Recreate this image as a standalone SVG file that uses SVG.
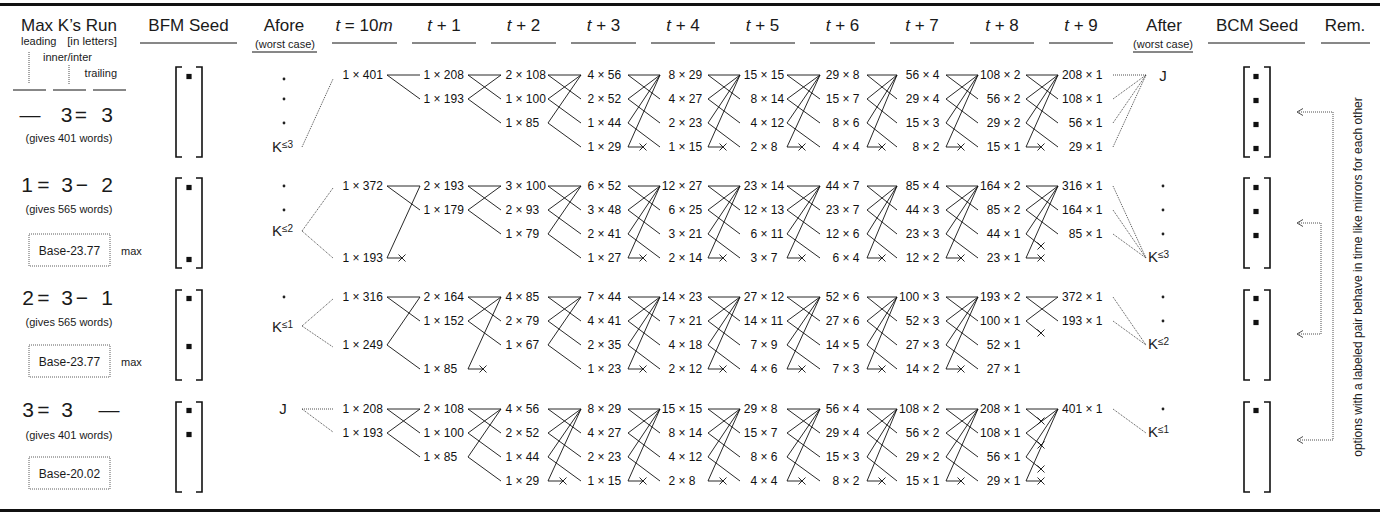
<svg xmlns="http://www.w3.org/2000/svg" xmlns:xlink="http://www.w3.org/1999/xlink" width="1380" height="512" viewBox="0 0 1380 512">
<style>
text{font-family:"Liberation Sans",Arial,Helvetica,sans-serif;fill:#1a1a1a}
.h{font-size:17px}
.s{font-size:11px}
.r{font-size:12px}
.n{font-size:12px;fill:#111}
.big{font-size:21px}
.k{font-size:15px}
.b{font-size:12px}
.i{font-style:italic}
.ln{stroke:#111;stroke-width:0.9;fill:none}
.dt{stroke:#222;stroke-width:0.8;stroke-dasharray:1 1;fill:none}
.ul{stroke:#111;stroke-width:1;fill:none}
.br{stroke:#111;stroke-width:1.6;fill:none}
.box{stroke:#333;stroke-width:0.8;stroke-dasharray:1 1;fill:none}
.sq{fill:#111}
.dot{fill:#222}
.ah{stroke:#222;stroke-width:0.8;fill:none}
</style>
<defs>
<path id="xm" d="M-3.5-3.5L3.5 3.5M-3.5 3.5L3.5-3.5" class="ln"/>
<g id="brk"><path d="M7 0H1V90H7M21 0H27V90H21" class="br"/></g>
<rect id="sqr" x="-2.6" y="-2.6" width="5.2" height="5.2" class="sq"/>
</defs>

<rect x="0" y="3" width="1380" height="3" fill="#111"/>
<rect x="0" y="509" width="1380" height="3" fill="#111"/>

<g id="header">
<text class="h" x="69" y="31" text-anchor="middle">Max K’s Run</text>
<text class="s" x="21" y="45">leading</text>
<text class="s" x="117" y="45" text-anchor="end" style="font-size:11.5px">[in letters]</text>
<text class="s" x="43" y="61">inner/inter</text>
<text class="s" x="117" y="77" text-anchor="end">trailing</text>
<path class="dt" d="M29 52V84M69 65V84"/>
<path class="ul" d="M13 90H46M53 90H86M93 90H126"/>
<text class="h" x="188.5" y="31" text-anchor="middle">BFM Seed</text>
<path class="ul" d="M140 43H237"/>
<text class="h" x="284" y="31" text-anchor="middle">Afore</text>
<text class="s" x="285" y="48" text-anchor="middle">(worst case)</text>
<path class="ul" d="M252 52H317"/>
<text class="h" x="364" y="31" text-anchor="middle"><tspan class="i">t</tspan> = 10<tspan class="i">m</tspan></text>
<text class="h" x="444" y="31" text-anchor="middle"><tspan class="i">t</tspan> + 1</text>
<text class="h" x="523.5" y="31" text-anchor="middle"><tspan class="i">t</tspan> + 2</text>
<text class="h" x="603.5" y="31" text-anchor="middle"><tspan class="i">t</tspan> + 3</text>
<text class="h" x="683" y="31" text-anchor="middle"><tspan class="i">t</tspan> + 4</text>
<text class="h" x="762.5" y="31" text-anchor="middle"><tspan class="i">t</tspan> + 5</text>
<text class="h" x="842.5" y="31" text-anchor="middle"><tspan class="i">t</tspan> + 6</text>
<text class="h" x="922" y="31" text-anchor="middle"><tspan class="i">t</tspan> + 7</text>
<text class="h" x="1002" y="31" text-anchor="middle"><tspan class="i">t</tspan> + 8</text>
<text class="h" x="1081" y="31" text-anchor="middle"><tspan class="i">t</tspan> + 9</text>
<path class="ul" d="M332 43H397M412 43H476M491 43H556M571 43H636M651 43H715M730 43H795M810 43H875M890 43H954M970 43H1034M1049 43H1113"/>
<text class="h" x="1164" y="31" text-anchor="middle">After</text>
<text class="s" x="1163" y="48" text-anchor="middle">(worst case)</text>
<path class="ul" d="M1133 52H1193"/>
<text class="h" x="1257" y="31" text-anchor="middle">BCM Seed</text>
<path class="ul" d="M1208 43H1305"/>
<text class="h" x="1345" y="31" text-anchor="middle">Rem.</text>
<path class="ul" d="M1321 43H1370"/>
</g>

<g id="run1">
<text class="big" x="30" y="122" text-anchor="middle">—</text>
<text class="big" x="66.5" y="122" text-anchor="middle">3</text>
<text class="big" x="81" y="122" text-anchor="middle">=</text>
<text class="big" x="107" y="122" text-anchor="middle">3</text>
<text class="s" x="69" y="142" text-anchor="middle">(gives 401 words)</text>
</g>
<g id="run2">
<text class="big" x="27" y="192" text-anchor="middle">1</text>
<text class="big" x="43.5" y="192" text-anchor="middle">=</text>
<text class="big" x="67" y="192" text-anchor="middle">3</text>
<text class="big" x="82" y="192" text-anchor="middle">−</text>
<text class="big" x="107" y="192" text-anchor="middle">2</text>
<text class="s" x="69" y="213" text-anchor="middle">(gives 565 words)</text>
<rect class="box" x="29" y="234" width="81" height="32"/>
<text class="b" x="69.5" y="255" text-anchor="middle">Base-23.77</text>
<text class="s" x="121" y="255">max</text>
</g>
<g id="run3">
<text class="big" x="28" y="305" text-anchor="middle">2</text>
<text class="big" x="43.5" y="305" text-anchor="middle">=</text>
<text class="big" x="67" y="305" text-anchor="middle">3</text>
<text class="big" x="82" y="305" text-anchor="middle">−</text>
<text class="big" x="107" y="305" text-anchor="middle">1</text>
<text class="s" x="69" y="326" text-anchor="middle">(gives 565 words)</text>
<rect class="box" x="29" y="345" width="81" height="32"/>
<text class="b" x="69.5" y="366" text-anchor="middle">Base-23.77</text>
<text class="s" x="121" y="366">max</text>
</g>
<g id="run4">
<text class="big" x="28" y="417" text-anchor="middle">3</text>
<text class="big" x="43.5" y="417" text-anchor="middle">=</text>
<text class="big" x="67" y="417" text-anchor="middle">3</text>
<text class="big" x="109" y="417" text-anchor="middle">—</text>
<text class="s" x="69" y="439" text-anchor="middle">(gives 401 words)</text>
<rect class="box" x="29" y="457" width="81" height="32"/>
<text class="b" x="69.5" y="478" text-anchor="middle">Base-20.02</text>
</g>

<g id="bfm1"><use xlink:href="#brk" x="175" y="67"/><use xlink:href="#sqr" x="189" y="76.5"/></g>
<g id="bfm2"><use xlink:href="#brk" x="175" y="178"/><use xlink:href="#sqr" x="189" y="187.5"/><use xlink:href="#sqr" x="189" y="259.5"/></g>
<g id="bfm3"><use xlink:href="#brk" x="175" y="290"/><use xlink:href="#sqr" x="189" y="298.5"/><use xlink:href="#sqr" x="189" y="346.5"/></g>
<g id="bfm4"><use xlink:href="#brk" x="175" y="402"/><use xlink:href="#sqr" x="189" y="410.5"/><use xlink:href="#sqr" x="189" y="434.5"/></g>

<g id="bcm1"><use xlink:href="#brk" x="1243" y="67"/><use xlink:href="#sqr" x="1256" y="76.5"/><use xlink:href="#sqr" x="1256" y="100.5"/><use xlink:href="#sqr" x="1256" y="124.5"/><use xlink:href="#sqr" x="1256" y="148.5"/></g>
<g id="bcm2"><use xlink:href="#brk" x="1243" y="178"/><use xlink:href="#sqr" x="1256" y="187.5"/><use xlink:href="#sqr" x="1256" y="211.5"/><use xlink:href="#sqr" x="1256" y="235.5"/></g>
<g id="bcm3"><use xlink:href="#brk" x="1243" y="290"/><use xlink:href="#sqr" x="1256" y="298.5"/><use xlink:href="#sqr" x="1256" y="322.5"/></g>
<g id="bcm4"><use xlink:href="#brk" x="1243" y="402"/><use xlink:href="#sqr" x="1256" y="410.5"/></g>

<g id="afore1"><circle class="dot" cx="284" cy="79" r="1.4"/><circle class="dot" cx="284" cy="99" r="1.4"/><circle class="dot" cx="284" cy="123" r="1.4"/><text class="k" x="272" y="152">K<tspan font-size="10" dy="-4">≤3</tspan></text></g>
<g id="afore2"><circle class="dot" cx="284" cy="186" r="1.4"/><circle class="dot" cx="284" cy="210" r="1.4"/><text class="k" x="272" y="236">K<tspan font-size="10" dy="-4">≤2</tspan></text></g>
<g id="afore3"><circle class="dot" cx="284" cy="297" r="1.4"/><text class="k" x="272" y="332">K<tspan font-size="10" dy="-4">≤1</tspan></text></g>
<g id="afore4"><text class="k" x="283" y="414" text-anchor="middle">J</text></g>

<g id="after1"><text class="k" x="1163" y="81" text-anchor="middle">J</text></g>
<g id="after2"><circle class="dot" cx="1163" cy="186" r="1.4"/><circle class="dot" cx="1163" cy="210" r="1.4"/><circle class="dot" cx="1163" cy="234" r="1.4"/><text class="k" x="1148" y="262">K<tspan font-size="10" dy="-4">≤3</tspan></text></g>
<g id="after3"><circle class="dot" cx="1163" cy="297" r="1.4"/><circle class="dot" cx="1163" cy="321" r="1.4"/><text class="k" x="1148" y="349">K<tspan font-size="10" dy="-4">≤2</tspan></text></g>
<g id="after4"><circle class="dot" cx="1163" cy="409" r="1.4"/><text class="k" x="1148" y="437">K<tspan font-size="10" dy="-4">≤1</tspan></text></g>

<g id="row1">
<text class="n" x="342.5" y="79">1 × 401</text>
<text class="n" x="423.5" y="79">1 × 208</text><text class="n" x="423.5" y="103">1 × 193</text>
<text class="n" x="505.5" y="79">2 × 108</text><text class="n" x="505.5" y="103">1 × 100</text><text class="n" x="505.5" y="127">1 × 85</text>
<text class="n" x="587.5" y="79">4 × 56</text><text class="n" x="587.5" y="103">2 × 52</text><text class="n" x="587.5" y="127">1 × 44</text><text class="n" x="587.5" y="151">1 × 29</text>
<text class="n" x="668.5" y="79">8 × 29</text><text class="n" x="668.5" y="103">4 × 27</text><text class="n" x="668.5" y="127">2 × 23</text><text class="n" x="668.5" y="151">1 × 15</text>
<text class="n" x="743.8" y="79">15 × 15</text><text class="n" x="750.5" y="103">8 × 14</text><text class="n" x="750.5" y="127">4 × 12</text><text class="n" x="750.5" y="151">2 × 8</text>
<text class="n" x="825.8" y="79">29 × 8</text><text class="n" x="825.8" y="103">15 × 7</text><text class="n" x="832.5" y="127">8 × 6</text><text class="n" x="832.5" y="151">4 × 4</text>
<text class="n" x="905.8" y="79">56 × 4</text><text class="n" x="905.8" y="103">29 × 4</text><text class="n" x="905.8" y="127">15 × 3</text><text class="n" x="912.5" y="151">8 × 2</text>
<text class="n" x="980.1" y="79">108 × 2</text><text class="n" x="986.8" y="103">56 × 2</text><text class="n" x="986.8" y="127">29 × 2</text><text class="n" x="986.8" y="151">15 × 1</text>
<text class="n" x="1062.1" y="79">208 × 1</text><text class="n" x="1062.1" y="103">108 × 1</text><text class="n" x="1068.8" y="127">56 × 1</text><text class="n" x="1068.8" y="151">29 × 1</text>
</g>

<g id="row2">
<text class="n" x="342.5" y="190">1 × 372</text><text class="n" x="342.5" y="262">1 × 193</text>
<text class="n" x="423.5" y="190">2 × 193</text><text class="n" x="423.5" y="214">1 × 179</text>
<text class="n" x="505.5" y="190">3 × 100</text><text class="n" x="505.5" y="214">2 × 93</text><text class="n" x="505.5" y="238">1 × 79</text>
<text class="n" x="587.5" y="190">6 × 52</text><text class="n" x="587.5" y="214">3 × 48</text><text class="n" x="587.5" y="238">2 × 41</text><text class="n" x="587.5" y="262">1 × 27</text>
<text class="n" x="661.8" y="190">12 × 27</text><text class="n" x="668.5" y="214">6 × 25</text><text class="n" x="668.5" y="238">3 × 21</text><text class="n" x="668.5" y="262">2 × 14</text>
<text class="n" x="743.8" y="190">23 × 14</text><text class="n" x="743.8" y="214">12 × 13</text><text class="n" x="750.5" y="238">6 × 11</text><text class="n" x="750.5" y="262">3 × 7</text>
<text class="n" x="825.8" y="190">44 × 7</text><text class="n" x="825.8" y="214">23 × 7</text><text class="n" x="825.8" y="238">12 × 6</text><text class="n" x="832.5" y="262">6 × 4</text>
<text class="n" x="905.8" y="190">85 × 4</text><text class="n" x="905.8" y="214">44 × 3</text><text class="n" x="905.8" y="238">23 × 3</text><text class="n" x="905.8" y="262">12 × 2</text>
<text class="n" x="980.1" y="190">164 × 2</text><text class="n" x="986.8" y="214">85 × 2</text><text class="n" x="986.8" y="238">44 × 1</text><text class="n" x="986.8" y="262">23 × 1</text>
<text class="n" x="1062.1" y="190">316 × 1</text><text class="n" x="1062.1" y="214">164 × 1</text><text class="n" x="1068.8" y="238">85 × 1</text>
</g>

<g id="row3">
<text class="n" x="342.5" y="301">1 × 316</text><text class="n" x="342.5" y="349">1 × 249</text>
<text class="n" x="423.5" y="301">2 × 164</text><text class="n" x="423.5" y="325">1 × 152</text><text class="n" x="423.5" y="373">1 × 85</text>
<text class="n" x="505.5" y="301">4 × 85</text><text class="n" x="505.5" y="325">2 × 79</text><text class="n" x="505.5" y="349">1 × 67</text>
<text class="n" x="587.5" y="301">7 × 44</text><text class="n" x="587.5" y="325">4 × 41</text><text class="n" x="587.5" y="349">2 × 35</text><text class="n" x="587.5" y="373">1 × 23</text>
<text class="n" x="661.8" y="301">14 × 23</text><text class="n" x="668.5" y="325">7 × 21</text><text class="n" x="668.5" y="349">4 × 18</text><text class="n" x="668.5" y="373">2 × 12</text>
<text class="n" x="743.8" y="301">27 × 12</text><text class="n" x="743.8" y="325">14 × 11</text><text class="n" x="750.5" y="349">7 × 9</text><text class="n" x="750.5" y="373">4 × 6</text>
<text class="n" x="825.8" y="301">52 × 6</text><text class="n" x="825.8" y="325">27 × 6</text><text class="n" x="825.8" y="349">14 × 5</text><text class="n" x="832.5" y="373">7 × 3</text>
<text class="n" x="899.1" y="301">100 × 3</text><text class="n" x="905.8" y="325">52 × 3</text><text class="n" x="905.8" y="349">27 × 3</text><text class="n" x="905.8" y="373">14 × 2</text>
<text class="n" x="980.1" y="301">193 × 2</text><text class="n" x="980.1" y="325">100 × 1</text><text class="n" x="986.8" y="349">52 × 1</text><text class="n" x="986.8" y="373">27 × 1</text>
<text class="n" x="1062.1" y="301">372 × 1</text><text class="n" x="1062.1" y="325">193 × 1</text>
</g>

<g id="row4">
<text class="n" x="342.5" y="413">1 × 208</text><text class="n" x="342.5" y="437">1 × 193</text>
<text class="n" x="423.5" y="413">2 × 108</text><text class="n" x="423.5" y="437">1 × 100</text><text class="n" x="423.5" y="461">1 × 85</text>
<text class="n" x="505.5" y="413">4 × 56</text><text class="n" x="505.5" y="437">2 × 52</text><text class="n" x="505.5" y="461">1 × 44</text><text class="n" x="505.5" y="485">1 × 29</text>
<text class="n" x="587.5" y="413">8 × 29</text><text class="n" x="587.5" y="437">4 × 27</text><text class="n" x="587.5" y="461">2 × 23</text><text class="n" x="587.5" y="485">1 × 15</text>
<text class="n" x="661.8" y="413">15 × 15</text><text class="n" x="668.5" y="437">8 × 14</text><text class="n" x="668.5" y="461">4 × 12</text><text class="n" x="668.5" y="485">2 × 8</text>
<text class="n" x="743.8" y="413">29 × 8</text><text class="n" x="743.8" y="437">15 × 7</text><text class="n" x="750.5" y="461">8 × 6</text><text class="n" x="750.5" y="485">4 × 4</text>
<text class="n" x="825.8" y="413">56 × 4</text><text class="n" x="825.8" y="437">29 × 4</text><text class="n" x="825.8" y="461">15 × 3</text><text class="n" x="832.5" y="485">8 × 2</text>
<text class="n" x="899.1" y="413">108 × 2</text><text class="n" x="905.8" y="437">56 × 2</text><text class="n" x="905.8" y="461">29 × 2</text><text class="n" x="905.8" y="485">15 × 1</text>
<text class="n" x="980.1" y="413">208 × 1</text><text class="n" x="980.1" y="437">108 × 1</text><text class="n" x="986.8" y="461">56 × 1</text><text class="n" x="986.8" y="485">29 × 1</text>
<text class="n" x="1062.1" y="413">401 × 1</text>
</g>

<g id="rem">
<path class="dt" d="M1299 112H1333V440H1299M1299 223H1321V334H1299"/>
<path class="ah" d="M1303 108.5L1297 112L1303 115.5M1303 436.5L1297 440L1303 443.5M1303 219.5L1297 223L1303 226.5M1303 330.5L1297 334L1303 337.5"/>
<text class="r" transform="translate(1362 277) rotate(-90)" text-anchor="middle">options with a labeled pair behave in time like mirrors for each other</text>
</g>

<g id="connectors">
<path class="dt" d="M302 147L333 79M1113 75H1146M1113 99L1146 75M1113 123L1146 75M1113 147L1146 75
M302 231L333 188M302 231L333 258M1113 186L1146 258M1113 210L1146 258M1113 234L1146 258
M302 326L333 299M302 326L333 347M1113 297L1146 345M1113 321L1146 345
M302 409H333M302 409L333 432M1113 409L1146 433"/>
<path class="ln" d="
M387 75H420M387 75L420 99
M468 75H501M468 75L501 99M468 99L501 75M468 99L501 123
M548 75H581M548 75L581 99M548 99L581 75M548 99L581 123M548 123L581 75M548 123L581 147
M628 75H660M628 75L660 99M628 99L660 75M628 99L660 123M628 123L660 75M628 123L660 147M628 147L660 75M628 147H643
M708 75H740M708 75L740 99M708 99L740 75M708 99L740 123M708 123L740 75M708 123L740 147M708 147L740 75M708 147H723
M787 75H820M787 75L820 99M787 99L820 75M787 99L820 123M787 123L820 75M787 123L820 147M787 147L820 75M787 147H802
M867 75H897M867 75L897 99M867 99L897 75M867 99L897 123M867 123L897 75M867 123L897 147M867 147L897 75M867 147H882
M946 75H978M946 75L978 99M946 99L978 75M946 99L978 123M946 123L978 75M946 123L978 147M946 147L978 75M946 147H961
M1026 75H1058M1026 75L1058 99M1026 99L1058 75M1026 99L1058 123M1026 123L1058 75M1026 123L1058 147M1026 147L1058 75M1026 147H1041"/>
<path class="ln" d="
M387 186H420M387 186L420 210M387 258L420 186M387 258H402
M468 186H501M468 186L501 210M468 210L501 186M468 210L501 234
M548 186H581M548 186L581 210M548 210L581 186M548 210L581 234M548 234L581 186M548 234L581 258
M628 186H660M628 186L660 210M628 210L660 186M628 210L660 234M628 234L660 186M628 234L660 258M628 258L660 186M628 258H643
M708 186H740M708 186L740 210M708 210L740 186M708 210L740 234M708 234L740 186M708 234L740 258M708 258L740 186M708 258H723
M787 186H820M787 186L820 210M787 210L820 186M787 210L820 234M787 234L820 186M787 234L820 258M787 258L820 186M787 258H802
M867 186H897M867 186L897 210M867 210L897 186M867 210L897 234M867 234L897 186M867 234L897 258M867 258L897 186M867 258H882
M946 186H978M946 186L978 210M946 210L978 186M946 210L978 234M946 234L978 186M946 234L978 258M946 258L978 186M946 258H961
M1026 186H1058M1026 186L1058 210M1026 210L1058 186M1026 210L1058 234M1026 234L1058 186M1026 234L1041 246M1026 258L1058 186M1026 258H1041"/>
<path class="ln" d="
M387 297H420M387 297L420 321M387 345L420 297M387 345L420 369
M468 297H501M468 297L501 321M468 321L501 297M468 321L501 345M468 369L501 297M468 369H483
M548 297H581M548 297L581 321M548 321L581 297M548 321L581 345M548 345L581 297M548 345L581 369
M628 297H660M628 297L660 321M628 321L660 297M628 321L660 345M628 345L660 297M628 345L660 369M628 369L660 297M628 369H643
M708 297H740M708 297L740 321M708 321L740 297M708 321L740 345M708 345L740 297M708 345L740 369M708 369L740 297M708 369H723
M787 297H820M787 297L820 321M787 321L820 297M787 321L820 345M787 345L820 297M787 345L820 369M787 369L820 297M787 369H802
M867 297H897M867 297L897 321M867 321L897 297M867 321L897 345M867 345L897 297M867 345L897 369M867 369L897 297M867 369H882
M946 297H978M946 297L978 321M946 321L978 297M946 321L978 345M946 345L978 297M946 345L978 369M946 369L978 297M946 369H961
M1026 297H1058M1026 297L1058 321M1026 321L1058 297M1026 321L1041 333"/>
<path class="ln" d="
M387 409H420M387 409L420 433M387 433L420 409M387 433L420 457
M468 409H501M468 409L501 433M468 433L501 409M468 433L501 457M468 457L501 409M468 457L501 481
M548 409H581M548 409L581 433M548 433L581 409M548 433L581 457M548 457L581 409M548 457L581 481M548 481L581 409M548 481H563
M628 409H660M628 409L660 433M628 433L660 409M628 433L660 457M628 457L660 409M628 457L660 481M628 481L660 409M628 481H643
M708 409H740M708 409L740 433M708 433L740 409M708 433L740 457M708 457L740 409M708 457L740 481M708 481L740 409M708 481H723
M787 409H820M787 409L820 433M787 433L820 409M787 433L820 457M787 457L820 409M787 457L820 481M787 481L820 409M787 481H802
M867 409H897M867 409L897 433M867 433L897 409M867 433L897 457M867 457L897 409M867 457L897 481M867 481L897 409M867 481H882
M946 409H978M946 409L978 433M946 433L978 409M946 433L978 457M946 457L978 409M946 457L978 481M946 481L978 409M946 481H961
M1026 409H1058M1026 409L1041 421M1026 433L1058 409M1026 433L1041 445M1026 457L1058 409M1026 457L1041 469M1026 481L1058 409M1026 481H1041"/>
<use xlink:href="#xm" x="643" y="147"/><use xlink:href="#xm" x="723" y="147"/><use xlink:href="#xm" x="802" y="147"/><use xlink:href="#xm" x="882" y="147"/><use xlink:href="#xm" x="961" y="147"/><use xlink:href="#xm" x="1041" y="147"/>
<use xlink:href="#xm" x="402" y="258"/><use xlink:href="#xm" x="643" y="258"/><use xlink:href="#xm" x="723" y="258"/><use xlink:href="#xm" x="802" y="258"/><use xlink:href="#xm" x="882" y="258"/><use xlink:href="#xm" x="961" y="258"/><use xlink:href="#xm" x="1041" y="246"/><use xlink:href="#xm" x="1041" y="258"/>
<use xlink:href="#xm" x="483" y="369"/><use xlink:href="#xm" x="643" y="369"/><use xlink:href="#xm" x="723" y="369"/><use xlink:href="#xm" x="802" y="369"/><use xlink:href="#xm" x="882" y="369"/><use xlink:href="#xm" x="961" y="369"/><use xlink:href="#xm" x="1041" y="333"/>
<use xlink:href="#xm" x="563" y="481"/><use xlink:href="#xm" x="643" y="481"/><use xlink:href="#xm" x="723" y="481"/><use xlink:href="#xm" x="802" y="481"/><use xlink:href="#xm" x="882" y="481"/><use xlink:href="#xm" x="961" y="481"/><use xlink:href="#xm" x="1041" y="421"/><use xlink:href="#xm" x="1041" y="445"/><use xlink:href="#xm" x="1041" y="469"/><use xlink:href="#xm" x="1041" y="481"/>
</g>
</svg>
